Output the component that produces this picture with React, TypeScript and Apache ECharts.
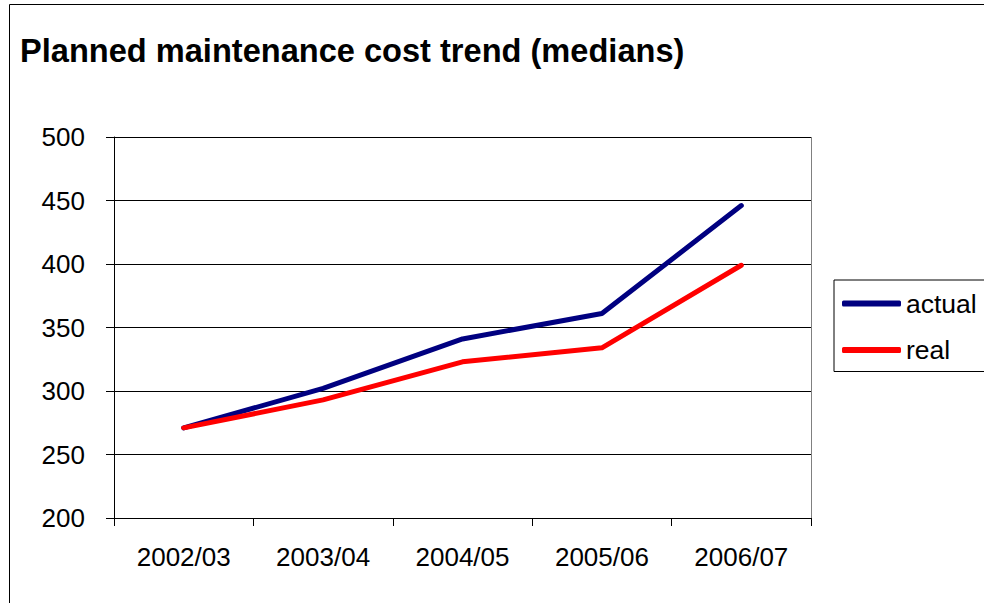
import React, { useEffect, useRef } from "react";
import * as echarts from "echarts";

const categories = ["2002/03", "2003/04", "2004/05", "2005/06", "2006/07"];
const actualValues = [271, 302, 341, 361, 446];
const realValues = [271, 293, 323, 334, 399];
const titleText = "Planned maintenance cost trend (medians)";

export default function App() {
  const ref = useRef<HTMLDivElement>(null);
  useEffect(() => {
    if (!ref.current) return;
    const chart = echarts.init(ref.current, null, { renderer: "svg" });
    const font = "Arial, 'Liberation Sans', sans-serif";
    chart.setOption({
      animation: false,
      backgroundColor: "#ffffff",
      textStyle: { fontFamily: font },
      title: {
        text: titleText,
        left: 15,
        top: 29,
        textStyle: { fontSize: 32.6, fontWeight: "bold", color: "#000", fontFamily: font },
      },
      grid: { left: 114, top: 137, width: 697, height: 381, containLabel: false },
      legend: {
        orient: "vertical",
        left: 834,
        top: 280,
        padding: [10, 40, 8, 8],
        itemGap: 19.5,
        itemWidth: 59,
        itemHeight: 6,
        icon: "roundRect",
        borderColor: "#000",
        borderWidth: 1,
        textStyle: { fontSize: 26.5, color: "#000", fontFamily: font },
        data: ["actual", "real"],
      },
      xAxis: {
        type: "category",
        data: categories,
        boundaryGap: true,
        axisLine: { lineStyle: { color: "#000", width: 1 } },
        axisTick: { show: true, length: 8, inside: false, lineStyle: { color: "#000" } },
        axisLabel: { fontSize: 26, color: "#000", margin: 26, fontFamily: font },
        splitLine: { show: false },
      },
      yAxis: {
        type: "value",
        min: 200,
        max: 500,
        interval: 50,
        axisLine: { show: true, lineStyle: { color: "#000", width: 1 } },
        axisTick: { show: true, length: 8, lineStyle: { color: "#000" } },
        axisLabel: { fontSize: 26, color: "#000", margin: 29, fontFamily: font },
        splitLine: { show: true, lineStyle: { color: "#000", width: 1 } },
      },
      series: [
        {
          name: "actual",
          type: "line",
          data: actualValues,
          symbol: "none",
          itemStyle: { color: "#000080" },
          lineStyle: { color: "#000080", width: 5, cap: "round", join: "round" },
        },
        {
          name: "real",
          type: "line",
          data: realValues,
          symbol: "none",
          itemStyle: { color: "#ff0000" },
          lineStyle: { color: "#ff0000", width: 5, cap: "round", join: "round" },
        },
      ],
      graphic: [
        {
          type: "rect",
          shape: { x: 9.5, y: 4.5, width: 1000, height: 700 },
          style: { fill: "none", stroke: "#000", lineWidth: 1 },
          silent: true,
        },
        {
          type: "line",
          shape: { x1: 811.5, y1: 137, x2: 811.5, y2: 518 },
          style: { stroke: "#808080", lineWidth: 1 },
          silent: true,
        },
      ],
    });
    return () => chart.dispose();
  }, []);
  return (
    <div
      ref={ref}
      style={{ position: "fixed", left: 0, top: 0, width: 984, height: 603 }}
    />
  );
}
